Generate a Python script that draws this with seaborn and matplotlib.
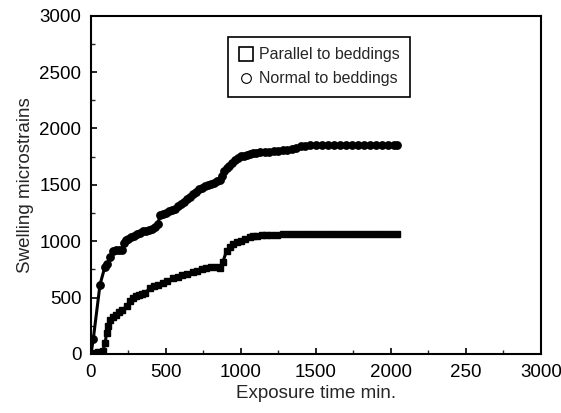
import matplotlib
matplotlib.use("Agg")
import matplotlib.pyplot as plt
import seaborn as sns
import pandas as pd
from matplotlib.lines import Line2D
from matplotlib.ticker import MultipleLocator

# ---- data ----
normal_t = [0, 15, 60, 93, 110, 130, 150, 170, 190, 205, 220, 235, 250, 270, 290, 310,
            330, 350, 370, 390, 410, 430, 445, 460, 480, 500, 520, 540, 560, 580, 600,
            620, 640, 660, 680, 700, 720, 740, 760, 780, 800, 820, 840, 860, 875, 890,
            905, 920, 940, 960, 980, 1000, 1020, 1040, 1060, 1080, 1100, 1130, 1160,
            1190, 1220, 1250, 1280, 1310, 1340, 1370, 1400, 1430, 1460, 1500, 1540,
            1580, 1620, 1660, 1700, 1740, 1780, 1820, 1860, 1900, 1940, 1980, 2020, 2040]
normal_s = [0, 130, 615, 775, 800, 860, 915, 920, 920, 925, 980, 1010, 1020, 1040, 1050,
            1060, 1075, 1090, 1095, 1100, 1110, 1130, 1150, 1230, 1240, 1250, 1270, 1280,
            1290, 1310, 1330, 1350, 1370, 1390, 1420, 1440, 1460, 1475, 1490, 1500, 1510,
            1520, 1530, 1545, 1580, 1620, 1650, 1670, 1690, 1720, 1740, 1755, 1760, 1765,
            1770, 1780, 1785, 1790, 1790, 1795, 1800, 1800, 1805, 1810, 1820, 1830, 1840,
            1845, 1850, 1850, 1852, 1852, 1853, 1853, 1855, 1855, 1855, 1855, 1856, 1856,
            1856, 1857, 1857, 1857]

parallel_t = [0, 20, 50, 80, 95, 104, 115, 130, 150, 170, 190, 210, 238, 260, 282, 300,
              320, 340, 360, 393, 420, 450, 480, 510, 549, 580, 610, 640, 682, 710, 740,
              770, 800, 838, 860, 880, 904, 930, 950, 971, 1000, 1030, 1060, 1082, 1110,
              1140, 1170, 1200, 1240, 1280, 1320, 1360, 1400, 1440, 1480, 1520, 1560,
              1600, 1640, 1680, 1720, 1760, 1800, 1840, 1880, 1920, 1960, 2000, 2040]
parallel_s = [0, 10, 15, 30, 100, 190, 250, 300, 330, 350, 370, 390, 425, 470, 500, 510,
              520, 530, 540, 585, 600, 615, 630, 645, 670, 685, 700, 710, 730, 740, 750,
              765, 770, 775, 760, 820, 915, 950, 975, 990, 1000, 1020, 1040, 1050, 1050,
              1055, 1055, 1058, 1058, 1060, 1060, 1060, 1062, 1062, 1062, 1063, 1063,
              1063, 1064, 1064, 1064, 1065, 1065, 1065, 1065, 1065, 1066, 1066, 1066]

labels = ["Parallel to beddings", "Normal to beddings"]
x_ticks = [0, 500, 1000, 1500, 2000, 2500, 3000]
x_ticklabels = ["0", "500", "1000", "1500", "2000", "250", "3000"]
y_ticks = [0, 500, 1000, 1500, 2000, 2500, 3000]

df_n = pd.DataFrame({"t": normal_t, "s": normal_s})
df_p = pd.DataFrame({"t": parallel_t, "s": parallel_s})

sns.set_style("ticks")
plt.rcParams["font.family"] = ["Liberation Sans", "DejaVu Sans"]

fig = plt.figure(figsize=(5.61, 4.13), dpi=100)
ax = fig.add_axes([0.1622, 0.1429, 0.8021, 0.8191])

sns.lineplot(data=df_n, x="t", y="s", ax=ax, color="black", lw=2.2, marker="o",
             markersize=5.3, markerfacecolor="black", markeredgecolor="black",
             markeredgewidth=1.0, sort=False)
sns.lineplot(data=df_p, x="t", y="s", ax=ax, color="black", lw=2.2, marker="s",
             markersize=4.8, markerfacecolor="black", markeredgecolor="black",
             markeredgewidth=1.0, sort=False)

ax.set_xlim(0, 3000)
ax.set_ylim(0, 3000)
ax.set_xticks(x_ticks)
ax.set_xticklabels(x_ticklabels)
ax.set_yticks(y_ticks)
ax.xaxis.set_minor_locator(MultipleLocator(250))
ax.yaxis.set_minor_locator(MultipleLocator(250))
ax.tick_params(axis="both", which="major", direction="in", length=4, width=1.2,
               labelsize=13.5, colors="black", pad=7)
ax.tick_params(axis="both", which="minor", direction="in", length=3, width=1.0)
for sp in ax.spines.values():
    sp.set_visible(True)
    sp.set_color("black")
    sp.set_linewidth(1.5)

ax.set_xlabel("Exposure time min.", fontsize=13.5, labelpad=3)
ax.set_ylabel("Swelling microstrains", fontsize=13.5, labelpad=4)

handles = [
    Line2D([], [], ls="none", marker="s", markersize=9.5, markerfacecolor="white",
           markeredgecolor="black", markeredgewidth=1.2),
    Line2D([], [], ls="none", marker="o", markersize=7, markerfacecolor="white",
           markeredgecolor="black", markeredgewidth=0.8),
]
leg = ax.legend(handles, labels, loc="upper left", bbox_to_anchor=(0.304, 0.937),
                frameon=True, fancybox=False, framealpha=1, edgecolor="black",
                fontsize=11.5, handlelength=1.0, handletextpad=0.3, labelspacing=0.55,
                borderpad=0.65, borderaxespad=0)
leg.get_frame().set_linewidth(1.2)

fig.savefig("out.png", dpi=100)
